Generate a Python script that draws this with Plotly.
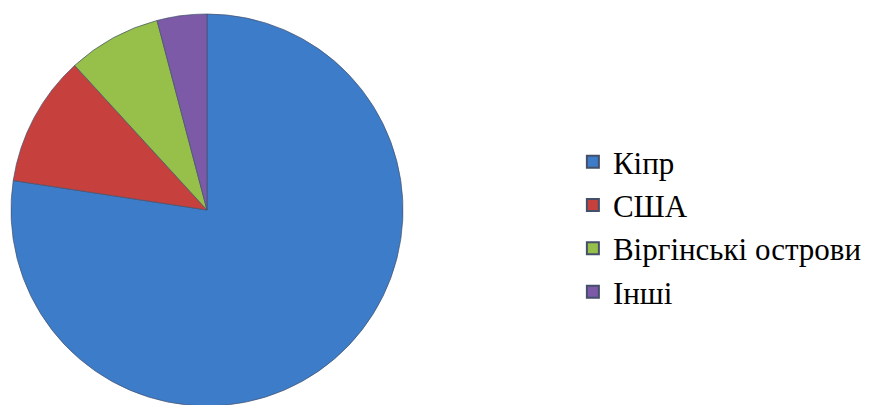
import plotly.graph_objects as go

labels = ["Кіпр", "США", "Віргінські острови", "Інші"]
values = [77.4, 10.8, 7.7, 4.1]
colors = ["#3D7CC9", "#C6403D", "#96C049", "#7D5AA8"]

fig = go.Figure(go.Pie(
    labels=labels,
    values=values,
    sort=False,
    direction="clockwise",
    rotation=0,
    textinfo="none",
    hoverinfo="label+percent",
    marker=dict(colors=colors, line=dict(color="#44506a", width=0.7)),
    domain=dict(x=[3/884, 395/884], y=[7/405, 399/405]),
))

fig.update_layout(
    width=884, height=405,
    margin=dict(l=0, r=0, t=0, b=0),
    paper_bgcolor="white",
    plot_bgcolor="white",
    showlegend=True,
    legend=dict(
        x=0.639, y=0.459, xanchor="left", yanchor="middle",
        font=dict(family="Liberation Serif", size=31, color="#000000"),
        tracegroupgap=0,
        itemsizing="constant",
    ),
)

fig.write_html("out.html")
